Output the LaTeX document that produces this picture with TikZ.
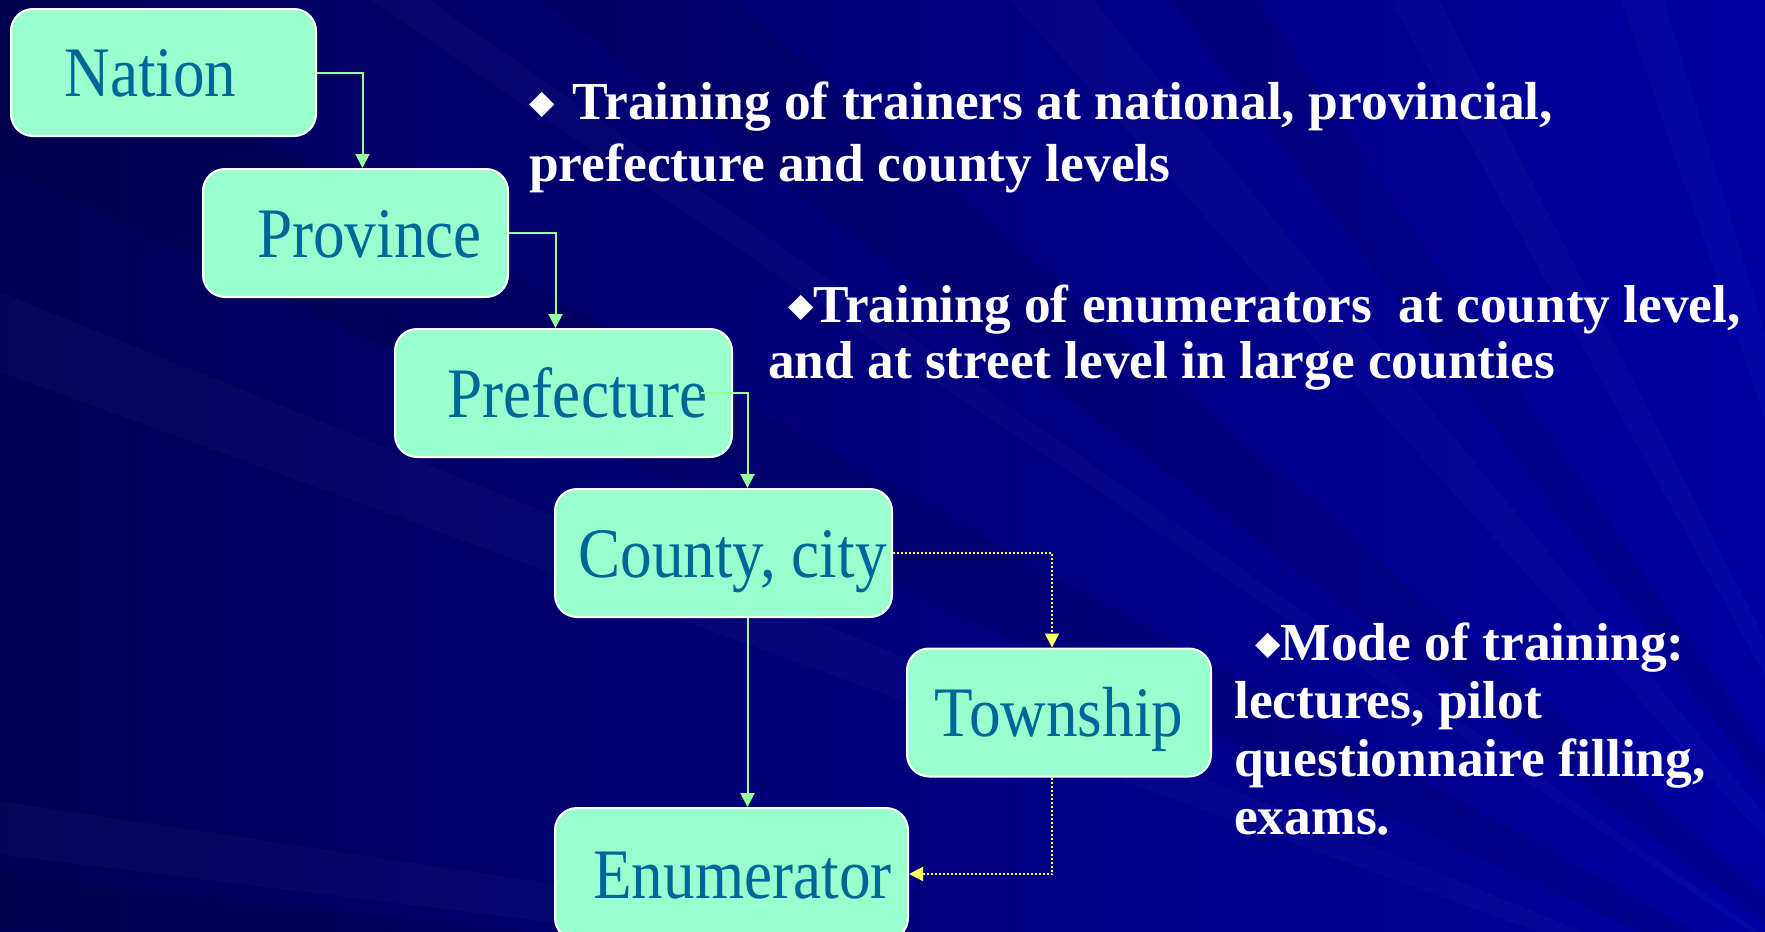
\documentclass[tikz,border=0pt]{standalone}
\usepackage{fontspec}
\usepackage{tikz}
\usetikzlibrary{arrows.meta}
\setmainfont{Liberation Serif}
\newfontfamily\boxfont[FakeStretch=0.89]{Liberation Serif}
\newfontfamily\symfont{DejaVu Sans}
\definecolor{mint}{HTML}{99FFCC}
\definecolor{tealtext}{HTML}{006699}
\definecolor{linkgreen}{HTML}{99FF99}
\definecolor{linkyellow}{HTML}{FFFF66}
\definecolor{navydark}{HTML}{000056}
\definecolor{navylight}{HTML}{0000A2}
\newcommand{\dmd}{\raisebox{6pt}{\symfont\fontsize{33}{33}\selectfont ◆}}

\begin{document}
\begin{tikzpicture}
            [
                x=1pt, y=-1pt,
                unit/.style={
                    draw=white, line width=2pt, fill=mint,
                    rounded corners=22pt, inner sep=0pt,
                    text=tealtext, text height=48pt, text depth=0pt,
                    font=\boxfont\fontsize{71}{71}\selectfont
                },
                note/.style={text=white, anchor=north west, inner sep=0pt,
                    align=left},
                link/.style={linkgreen, line width=2pt,
                    -{Triangle[width=14pt,length=14pt]}},
                dotlink/.style={linkyellow, line width=2pt,
                    dash pattern=on 2pt off 2pt,
                    -{Triangle[width=14pt,length=14pt]}},
                ray/.style={white, opacity=0.025},
                shadowray/.style={black, opacity=0.1}
            ]
            \useasboundingbox (0,0) rectangle (1765,932);
            \clip (0,0) rectangle (1765,932);

            % background
            \shade[left color=navydark, right color=navylight]
                (0,0) rectangle (1765,932);
            \begin{scope}[shift={(2000,1100)}]
                \foreach \a/\b in {187/188.5, 200/202, 214/215, 228/230.5,
                                   241/243, 251/253}
                    \fill[ray] (0,0) -- (\a:3000) -- (\b:3000) -- cycle;
                \foreach \a/\b in {185/186.5, 205/209, 217/221, 233/236}
                    \fill[shadowray] (0,0) -- (\a:3000) -- (\b:3000) -- cycle;
            \end{scope}

            % levels
            \node[unit, minimum width=305pt, minimum height=127pt]
                (nation) at (163.5,72.5) {\hspace{-26pt}Nation};
            \node[unit, minimum width=305pt, minimum height=128pt]
                (province) at (355.5,233) {\hspace{28pt}Province};
            \node[unit, minimum width=337pt, minimum height=128pt]
                (prefecture) at (563.5,393) {\hspace{28pt}Prefecture};
            \node[unit, minimum width=337pt, minimum height=128pt]
                (county) at (723.5,553) {\hspace{18pt}County, city};
            \node[unit, minimum width=304pt, minimum height=128pt]
                (township) at (1059,712.5) {Township};
            \node[unit, minimum width=353pt, minimum height=132pt]
                (enumerator) at (731.5,874) {\hspace{22pt}Enumerator};

            % connectors
            \draw[link] (nation.east) -| ([xshift=7pt]province.north);
            \draw[link] (province.east) -| ([xshift=-8pt]prefecture.north);
            \draw[link] ([xshift=-32pt]prefecture.east)
                -| ([xshift=24pt]county.north);
            \draw[link] ([xshift=24pt]county.south)
                -- ([xshift=24pt]county.south |- enumerator.north);
            \draw[dotlink] (county.east) -| ([xshift=-7pt]township.north);
            \draw[dotlink] ([xshift=-7pt]township.south)
                |- (enumerator.east);

            % notes
            \node[note, font=\bfseries\fontsize{53.5}{62}\selectfont]
                (trainers) at (529,82)
                {\dmd\hspace{18pt}Training of trainers at national, provincial,\\
                 prefecture and county levels};
            \node[note, font=\bfseries\fontsize{53.3}{56}\selectfont]
                (enumerators) at (768,285)
                {\hspace*{20pt}\dmd Training of enumerators\ \ at county level,\\
                 and at street level in large counties};
            \node[note, font=\bfseries\fontsize{53.5}{58}\selectfont]
                (mode) at (1234,623)
                {\hspace*{21pt}\dmd Mode of training:\\
                 lectures, pilot\\
                 questionnaire filling,\\
                 exams.};
\end{tikzpicture}
\end{document}
